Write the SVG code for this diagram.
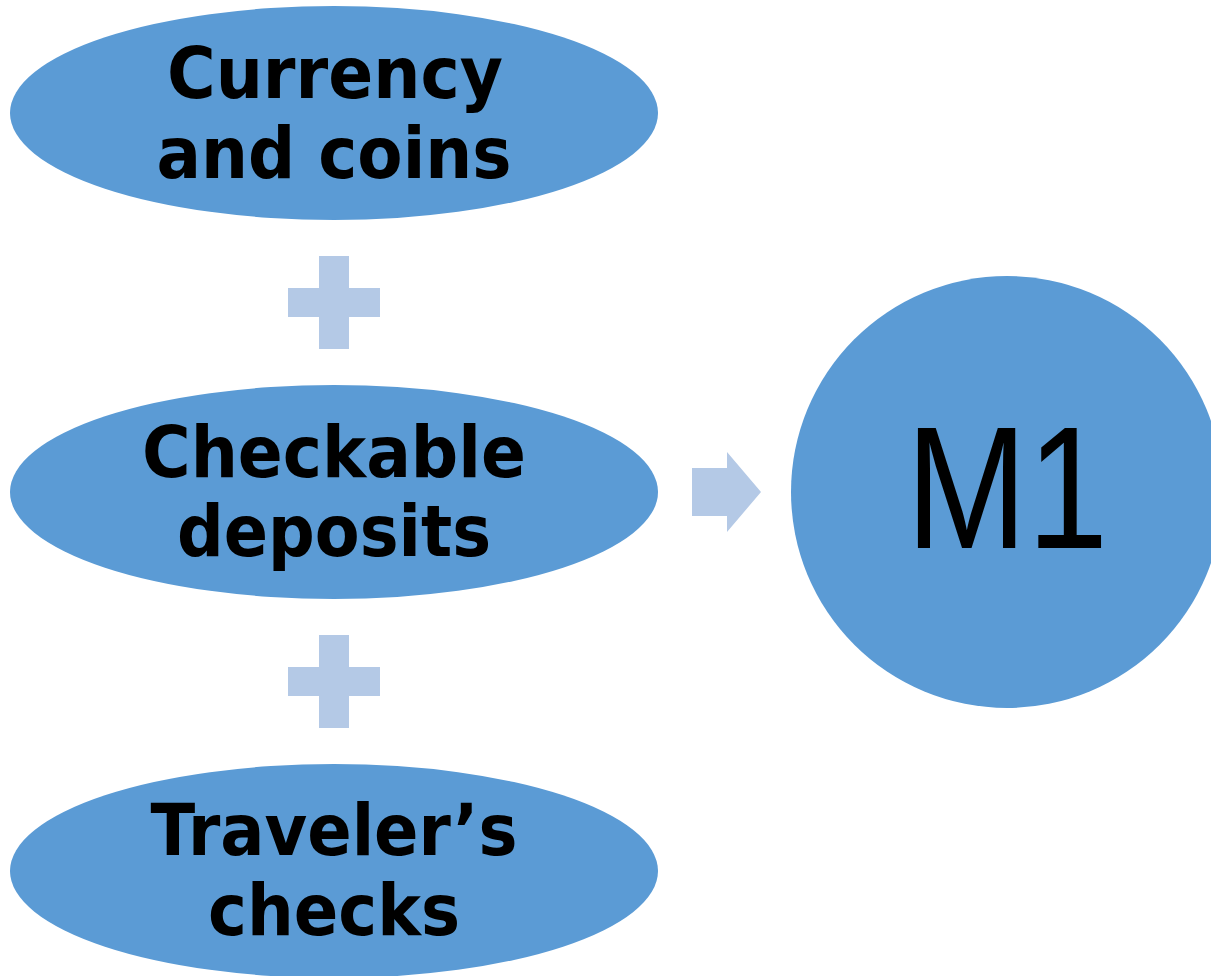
<svg xmlns="http://www.w3.org/2000/svg" width="1211" height="976" viewBox="0 0 1211 976">
<style>
.node{fill:#5B9BD5}
.conn{fill:#B4C9E6}
.lbl{font-family:"DejaVu Sans","Liberation Sans",sans-serif;font-weight:bold;font-size:72px;fill:#000;text-anchor:middle}
.big{font-family:"Liberation Sans","DejaVu Sans",sans-serif;font-size:175px;fill:#000;text-anchor:middle}
</style>
<rect width="1211" height="976" fill="#fff"/>
<g id="connectors">
<path class="conn" d="M319 256H349V288H380V317H349V349H319V317H288V288H319Z"/>
<path class="conn" d="M319 635H349V667H380V696H349V728H319V696H288V667H319Z"/>
<path class="conn" d="M692 468H727V452L761 492L727 532V516H692Z"/>
</g>
<g id="currency">
<ellipse class="node" cx="334" cy="113" rx="324" ry="107"/>
<text class="lbl" x="335" y="98" textLength="336" lengthAdjust="spacingAndGlyphs">Currency</text>
<text class="lbl" x="334" y="178" textLength="355" lengthAdjust="spacingAndGlyphs">and coins</text>
</g>
<g id="checkable">
<ellipse class="node" cx="334" cy="492" rx="324" ry="107"/>
<text class="lbl" x="334" y="477" textLength="384" lengthAdjust="spacingAndGlyphs">Checkable</text>
<text class="lbl" x="334" y="556" textLength="314" lengthAdjust="spacingAndGlyphs">deposits</text>
</g>
<g id="travelers">
<ellipse class="node" cx="334" cy="871" rx="324" ry="107"/>
<text class="lbl" x="334" y="855" textLength="367" lengthAdjust="spacingAndGlyphs">Traveler’s</text>
<text class="lbl" x="334" y="935" textLength="252" lengthAdjust="spacingAndGlyphs">checks</text>
</g>
<g id="m1">
<circle class="node" cx="1007" cy="492" r="216"/>
<text class="big" x="1007" y="548" textLength="202" lengthAdjust="spacingAndGlyphs">M1</text>
</g>
</svg>
